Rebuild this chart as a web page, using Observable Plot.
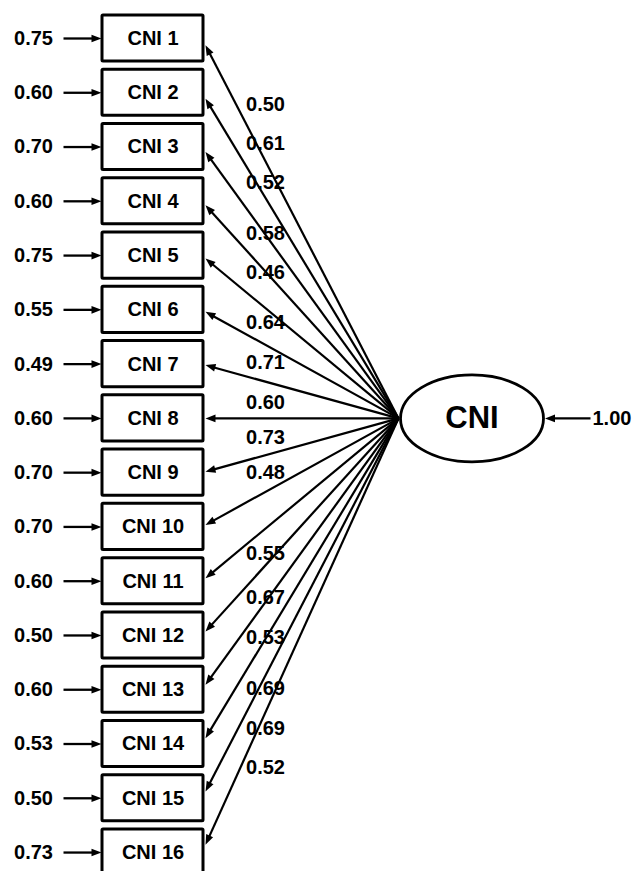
<!DOCTYPE html>
<html>
<head>
<meta charset="utf-8">
<script src="https://cdn.jsdelivr.net/npm/d3@7"></script>
<script src="https://cdn.jsdelivr.net/npm/@observablehq/plot@0.6"></script>
<style>
  html, body { margin: 0; padding: 0; background: #fff; }
  #chart svg { display: block; overflow: visible; }
</style>
</head>
<body>
<div id="chart"></div>
<script>
// ---- data ----
const indicators = ["CNI 1","CNI 2","CNI 3","CNI 4","CNI 5","CNI 6","CNI 7","CNI 8",
                    "CNI 9","CNI 10","CNI 11","CNI 12","CNI 13","CNI 14","CNI 15","CNI 16"];
const loadings = [0.50,0.61,0.52,0.58,0.46,0.64,0.71,0.60,0.73,0.48,0.55,0.67,0.53,0.69,0.69,0.52];
const errorVars = [0.75,0.60,0.70,0.60,0.75,0.55,0.49,0.60,0.70,0.70,0.60,0.50,0.60,0.53,0.50,0.73];
const factorName = "CNI";
const factorVar = 1.00;
// where each loading label sits, in row units
const loadingLabelRows = [1.22,1.94,2.65,3.59,4.31,5.23,5.97,6.71,7.35,8.0,9.49,10.3,11.04,11.98,12.71,13.43];

// ---- layout ----
const W = 634, H = 871;
const rowPx = 54.27, firstRowPx = 38;
const factorRow = 7.0;
const boxX1 = 102, boxX2 = 203, boxHalf = 0.425;
const errX1 = 63, errX2 = 101, errLabelX = 33;
const convX = 398, tipX = 205;
const ellCX = 471.5, ellRX = 71.5, ellRY = 43.5;
const loadLabelX = 265;
const headLen = 10;

const rows = indicators.map((name, i) => {
  const tipRow = i + (factorRow - i) * 0.018;
  const dxp = tipX - convX, dyp = (tipRow - factorRow) * rowPx;
  const L = Math.hypot(dxp, dyp);
  const endX = tipX - dxp / L * (headLen - 3);
  const endRow = tipRow - (dyp / L * (headLen - 3)) / rowPx;
  return {
    name, row: i, loading: loadings[i], error: errorVars[i],
    tipRow, endX, endRow,
    angle: Math.atan2(dxp, -dyp) * 180 / Math.PI,
    labelRow: loadingLabelRows[i]
  };
});

// custom symbols
const arrowHead = {
  draw(ctx, size) {
    const r = Math.sqrt(size / Math.PI);
    const len = r * 2.5, hw = r * 0.95;
    ctx.moveTo(0, 0);
    ctx.lineTo(-hw, len);
    ctx.lineTo(hw, len);
    ctx.closePath();
  }
};
const ellipse = {
  draw(ctx, size) {
    const ry = Math.sqrt(size / Math.PI);
    const rx = ry * (ellRX / ellRY);
    const k = 0.5523;
    ctx.moveTo(rx, 0);
    ctx.bezierCurveTo(rx, k * ry, k * rx, ry, 0, ry);
    ctx.bezierCurveTo(-k * rx, ry, -rx, k * ry, -rx, 0);
    ctx.bezierCurveTo(-rx, -k * ry, -k * rx, -ry, 0, -ry);
    ctx.bezierCurveTo(k * rx, -ry, rx, -k * ry, rx, 0);
    ctx.closePath();
  }
};

const factor = [{name: factorName, v: factorVar, row: factorRow}];
const fontFamily = "'Liberation Sans', Arial, Helvetica, sans-serif";

const chart = Plot.plot({
  width: W, height: H,
  marginTop: 0, marginBottom: 0, marginLeft: 0, marginRight: 0,
  x: {type: "linear", domain: [0, W], range: [0, W], axis: null},
  y: {type: "linear", domain: [-firstRowPx / rowPx, (H - firstRowPx) / rowPx], range: [0, H], axis: null},
  style: {fontFamily, color: "#000", background: "#fff"},
  marks: [
    // loading paths
    Plot.link(rows, {x1: convX, y1: factorRow, x2: "endX", y2: "endRow",
      stroke: "#000", strokeWidth: 2.2}),
    Plot.dot(rows, {x: tipX, y: "tipRow", symbol: arrowHead, r: 4, rotate: "angle",
      fill: "#000", stroke: "none"}),
    // error arrows
    Plot.link(rows, {x1: errX1, x2: errX2 - headLen + 3, y1: "row", y2: "row",
      stroke: "#000", strokeWidth: 2.3}),
    Plot.dot(rows, {x: errX2, y: "row", symbol: arrowHead, r: 4, rotate: 90,
      fill: "#000", stroke: "none"}),
    Plot.text(rows, {x: errLabelX, y: "row", text: d => d.error.toFixed(2),
      fontSize: 20, fontWeight: "bold", textAnchor: "middle"}),
    // indicator boxes
    Plot.rect(rows, {x1: boxX1, x2: boxX2, y1: d => d.row - boxHalf, y2: d => d.row + boxHalf,
      fill: "#fff", stroke: "#000", strokeWidth: 3, rx: 1}),
    Plot.text(rows, {x: (boxX1 + boxX2) / 2, y: "row", text: "name",
      fontSize: 20, fontWeight: "bold", textAnchor: "middle"}),
    // loading labels
    Plot.text(rows, {x: loadLabelX, y: "labelRow", text: d => d.loading.toFixed(2),
      fontSize: 20, fontWeight: "bold", textAnchor: "middle"}),
    // latent factor
    Plot.dot(factor, {x: ellCX, y: "row", symbol: ellipse, r: ellRY,
      fill: "#fff", stroke: "#000", strokeWidth: 2.8}),
    Plot.text(factor, {x: ellCX, y: "row", text: "name",
      fontSize: 31, fontWeight: "bold", textAnchor: "middle"}),
    Plot.link(factor, {x1: 590, x2: ellCX + ellRX + headLen - 2, y1: "row", y2: "row",
      stroke: "#000", strokeWidth: 2.3}),
    Plot.dot(factor, {x: ellCX + ellRX + 1.5, y: "row", symbol: arrowHead, r: 4, rotate: -90,
      fill: "#000", stroke: "none"}),
    Plot.text(factor, {x: 592, y: "row", text: d => d.v.toFixed(2),
      fontSize: 20, fontWeight: "bold", textAnchor: "start"})
  ]
});
document.getElementById("chart").appendChild(chart);
</script>
</body>
</html>
